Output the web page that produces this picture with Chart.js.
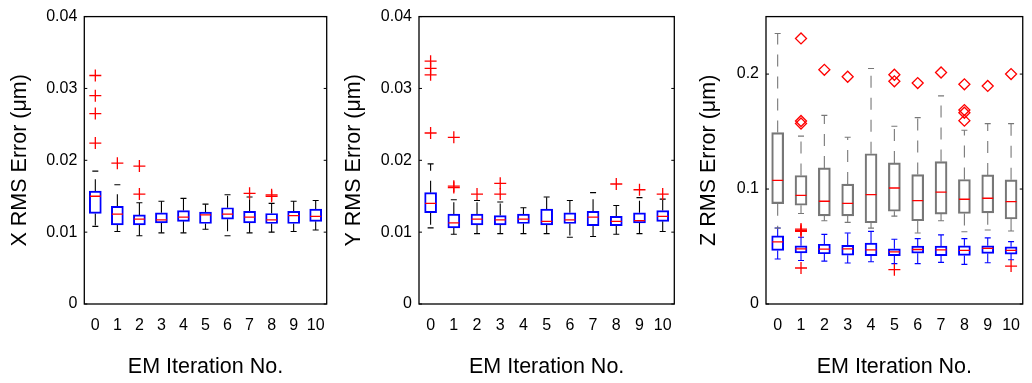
<!DOCTYPE html>
<html>
<head>
<meta charset="utf-8">
<script src="https://cdn.jsdelivr.net/npm/chart.js@4.4.1/dist/chart.umd.min.js"></script>
<style>
  body { margin: 0; background: #fff; width: 1032px; height: 383px; overflow: hidden; position: relative; }
  canvas { position: absolute; top: 0; }
</style>
</head>
<body>
<canvas id="chartX" width="340" height="383" style="left:0px"></canvas>
<canvas id="chartY" width="345" height="383" style="left:340px"></canvas>
<canvas id="chartZ" width="347" height="383" style="left:685px"></canvas>
<script>
const iterations = [0, 1, 2, 3, 4, 5, 6, 7, 8, 9, 10];
const xyTicks = [0, 0.01, 0.02, 0.03, 0.04];
const zTicks = [0, 0.1, 0.2];

// X RMS error
const xLow  = [0.0108, 0.0101, 0.0095, 0.0099, 0.0099, 0.0104, 0.0095, 0.0099, 0.0100, 0.0101, 0.0103];
const xQ1   = [0.0126, 0.0110, 0.0110, 0.0113, 0.0115, 0.0112, 0.0118, 0.0113, 0.0112, 0.0112, 0.0115];
const xMed  = [0.0150, 0.0125, 0.0118, 0.0117, 0.0121, 0.0124, 0.0125, 0.0121, 0.0117, 0.0123, 0.0122];
const xQ3   = [0.0157, 0.0136, 0.0124, 0.0127, 0.0130, 0.0128, 0.0134, 0.0129, 0.0126, 0.0129, 0.0132];
const xHigh = [0.0185, 0.0166, 0.0141, 0.0143, 0.0147, 0.0139, 0.0152, 0.0149, 0.0140, 0.0143, 0.0144];
const xOut  = [[0.0318, 0.0290, 0.0265, 0.0224], [0.0196], [0.0192, 0.0153], [], [], [], [], [0.0154], [0.0152, 0.0150], [], []];

// Y RMS error
const yLow  = [0.0106, 0.0097, 0.0098, 0.0098, 0.0098, 0.0098, 0.0093, 0.0094, 0.0097, 0.0098, 0.0101];
const yQ1   = [0.0127, 0.0106, 0.0110, 0.0110, 0.0112, 0.0110, 0.0112, 0.0109, 0.0109, 0.0113, 0.0115];
const yMed  = [0.0140, 0.0113, 0.0118, 0.0117, 0.0118, 0.0115, 0.0117, 0.0121, 0.0115, 0.0116, 0.0122];
const yQ3   = [0.0155, 0.0125, 0.0125, 0.0123, 0.0125, 0.0132, 0.0127, 0.0129, 0.0122, 0.0127, 0.0130];
const yHigh = [0.0195, 0.0145, 0.0144, 0.0142, 0.0134, 0.0149, 0.0144, 0.0155, 0.0137, 0.0148, 0.0146];
const yOut  = [[0.0338, 0.0328, 0.0319, 0.0238], [0.0232, 0.0164, 0.0162], [0.0153], [0.0168, 0.0153], [], [], [], [], [0.0167], [0.0159], [0.0153]];

// Z RMS error, grey set
const zgLow  = [0.0660, 0.0787, 0.0724, 0.0710, 0.0660, 0.0764, 0.0618, 0.0724, 0.0629, 0.0644, 0.0635];
const zgQ1   = [0.0873, 0.0859, 0.0767, 0.0767, 0.0707, 0.0807, 0.0724, 0.0782, 0.0787, 0.0793, 0.0739];
const zgMed  = [0.1075, 0.0945, 0.0894, 0.0876, 0.0951, 0.1009, 0.0899, 0.0974, 0.0911, 0.0920, 0.0891];
const zgQ3   = [0.1491, 0.1118, 0.1184, 0.1043, 0.1307, 0.1227, 0.1126, 0.1239, 0.1083, 0.1123, 0.1080];
const zgHigh = [0.2353, 0.1460, 0.1641, 0.1451, 0.2049, 0.1546, 0.1621, 0.1810, 0.1511, 0.1569, 0.1569];
const zgOut  = [[], [0.2310, 0.1592, 0.1570], [0.2037], [0.1977], [], [0.1994, 0.1937], [0.1922], [0.2014], [0.1911, 0.1687, 0.1664, 0.1595], [0.1897], [0.2000]];

// Z RMS error, blue set
const zbLow  = [0.0391, 0.0379, 0.0373, 0.0356, 0.0368, 0.0351, 0.0351, 0.0362, 0.0345, 0.0359, 0.0385];
const zbQ1   = [0.0466, 0.0445, 0.0437, 0.0425, 0.0420, 0.0420, 0.0442, 0.0420, 0.0422, 0.0440, 0.0434];
const zbMed  = [0.0540, 0.0480, 0.0477, 0.0480, 0.0471, 0.0454, 0.0474, 0.0471, 0.0466, 0.0483, 0.0466];
const zbQ3   = [0.0592, 0.0506, 0.0520, 0.0511, 0.0529, 0.0480, 0.0503, 0.0503, 0.0506, 0.0506, 0.0497];
const zbHigh = [0.0661, 0.0580, 0.0606, 0.0618, 0.0632, 0.0563, 0.0569, 0.0601, 0.0569, 0.0575, 0.0543];
const zbOut  = [[], [0.0652, 0.0641, 0.0631, 0.0313], [], [], [], [0.0299], [], [], [], [], [0.0330]];

Chart.defaults.font.family = "'Liberation Sans', Arial, sans-serif";
Chart.defaults.color = '#000';

// frame round the plot area plus MATLAB style inward ticks
const framePlugin = {
    id: 'frame',
    afterDraw(chart) {
        const ctx = chart.ctx;
        const a = chart.chartArea;
        const yScale = chart.scales.y;
        ctx.save();
        ctx.strokeStyle = '#000';
        ctx.lineWidth = 1.3;
        ctx.strokeRect(a.left, a.top, a.right - a.left, a.bottom - a.top);
        ctx.lineWidth = 1;
        yScale.ticks.forEach(t => {
            const py = yScale.getPixelForValue(t.value);
            ctx.beginPath();
            ctx.moveTo(a.left, py); ctx.lineTo(a.left + 3, py);
            ctx.moveTo(a.right - 3, py); ctx.lineTo(a.right, py);
            ctx.stroke();
        });
        ctx.restore();
    }
};

function boxDatasets(low, q1, med, q3, high, out, style) {
    const whiskers = [];
    const caps = [];
    iterations.forEach((it, i) => {
        whiskers.push({ x: it, y: q3[i] }, { x: it, y: high[i] }, { x: it, y: null });
        whiskers.push({ x: it, y: q1[i] }, { x: it, y: low[i] }, { x: it, y: null });
        caps.push({ x: it, y: high[i] }, { x: it, y: low[i] });
    });
    const outliers = [];
    out.forEach((vals, i) => vals.forEach(v => outliers.push({ x: iterations[i], y: v })));

    return [
        {
            type: 'line',
            data: whiskers,
            borderColor: style.whisker,
            borderWidth: 1.1,
            borderDash: [12, 10],
            pointRadius: 0,
            order: 5
        },
        {
            type: 'scatter',
            data: caps,
            pointStyle: 'line',
            pointRadius: 3,
            borderColor: style.whisker,
            borderWidth: 1.1,
            order: 4
        },
        {
            type: 'bar',
            data: iterations.map((it, i) => ({ x: it, y: [q1[i], q3[i]] })),
            borderColor: style.box,
            borderWidth: style.boxWidth,
            borderSkipped: false,
            backgroundColor: 'rgba(0,0,0,0)',
            barThickness: 12,
            grouped: false,
            order: 3
        },
        {
            type: 'scatter',
            data: iterations.map((it, i) => ({ x: it, y: med[i] })),
            pointStyle: 'line',
            pointRadius: 5.5,
            borderColor: '#ff0000',
            borderWidth: 1.3,
            order: 2
        },
        {
            type: 'scatter',
            data: outliers,
            pointStyle: style.marker,
            pointRadius: style.markerSize,
            borderColor: '#ff0000',
            backgroundColor: 'rgba(0,0,0,0)',
            borderWidth: 1.3,
            order: 1
        }
    ];
}

function createBoxPlot(id, datasets, yTicks, yMax, yTitle, box) {
    const ctx = document.getElementById(id).getContext('2d');
    return new Chart(ctx, {
        type: 'scatter',
        data: { datasets: datasets },
        options: {
            responsive: false,
            devicePixelRatio: 1,
            animation: false,
            events: [],
            layout: { padding: { left: 0, right: box.padRight, top: 14, bottom: 0 } },
            scales: {
                x: {
                    type: 'linear',
                    min: -0.5,
                    max: 10.5,
                    offset: false,
                    grid: { display: false, drawTicks: false },
                    border: { display: false },
                    afterBuildTicks: scale => { scale.ticks = iterations.map(v => ({ value: v })); },
                    afterFit: scale => { scale.height = 79; },
                    ticks: {
                        autoSkip: false,
                        maxRotation: 0,
                        padding: 11.7,
                        color: '#000',
                        font: { size: 16 },
                        callback: v => String(v)
                    },
                    title: {
                        display: true,
                        text: 'EM Iteration No.',
                        color: '#000',
                        font: { size: 21.5, lineHeight: 1.2 },
                        padding: { top: 0, bottom: 3.4 }
                    }
                },
                y: {
                    type: 'linear',
                    min: 0,
                    max: yMax,
                    grid: { display: false, drawTicks: false },
                    border: { display: false },
                    afterBuildTicks: scale => { scale.ticks = yTicks.map(v => ({ value: v })); },
                    afterFit: scale => { scale.width = box.yWidth; },
                    ticks: {
                        padding: 7,
                        color: '#000',
                        font: { size: 16 },
                        callback: v => String(v)
                    },
                    title: {
                        display: true,
                        text: yTitle,
                        color: '#000',
                        font: { size: 21.5, lineHeight: 1.2 },
                        padding: { top: box.titlePad, bottom: 0 }
                    }
                }
            },
            plugins: {
                legend: { display: false },
                tooltip: { enabled: false }
            }
        },
        plugins: [framePlugin]
    });
}

const blackStyle = { box: '#0000ff', boxWidth: 1.3, whisker: '#000000', marker: 'cross', markerSize: 6 };
const greyStyle = { box: '#777777', boxWidth: 1.5, whisker: '#777777', marker: 'rectRot', markerSize: 5.5 };
const blueStyle = { box: '#0000ff', boxWidth: 1.3, whisker: '#0000ff', marker: 'cross', markerSize: 6 };

createBoxPlot('chartX',
    boxDatasets(xLow, xQ1, xMed, xQ3, xHigh, xOut, blackStyle),
    xyTicks, 0.04, 'X RMS Error (\u03bcm)',
    { yWidth: 84.3, padRight: 13.3, titlePad: 7.6 });

createBoxPlot('chartY',
    boxDatasets(yLow, yQ1, yMed, yQ3, yHigh, yOut, blackStyle),
    xyTicks, 0.04, 'Y RMS Error (\u03bcm)',
    { yWidth: 79, padRight: 10.7, titlePad: 1.1 });

createBoxPlot('chartZ',
    boxDatasets(zgLow, zgQ1, zgMed, zgQ3, zgHigh, zgOut, greyStyle)
        .concat(boxDatasets(zbLow, zbQ1, zbMed, zbQ3, zbHigh, zbOut, blueStyle)),
    zTicks, 0.25, 'Z RMS Error (\u03bcm)',
    { yWidth: 81, padRight: 3.7, titlePad: 11.6 });
</script>
</body>
</html>
